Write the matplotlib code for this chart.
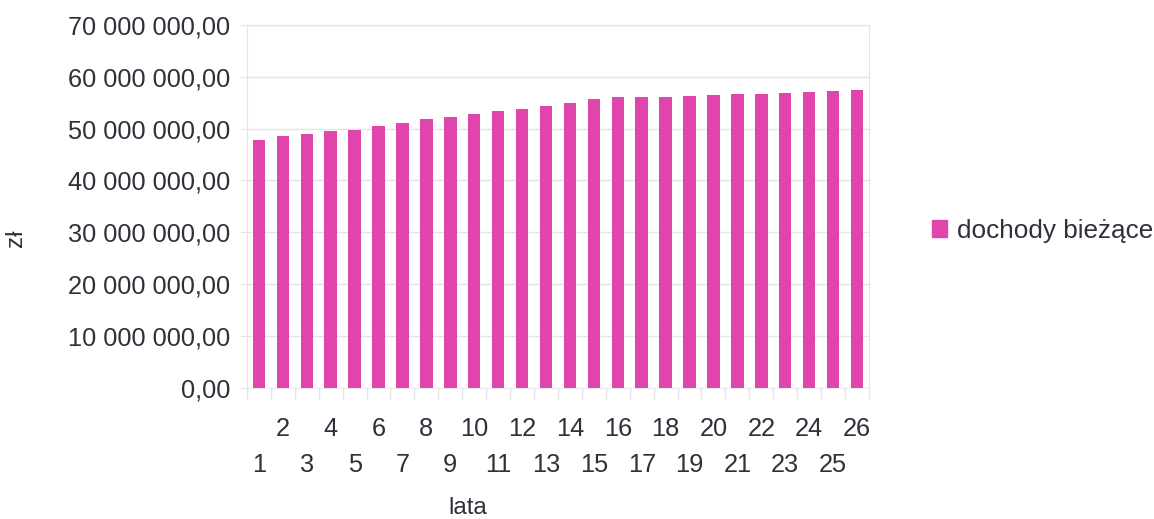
import matplotlib.pyplot as plt
from matplotlib.patches import Patch
from matplotlib.ticker import FuncFormatter
import matplotlib.transforms as mtransforms

plt.rcParams['font.family'] = ['Liberation Sans', 'DejaVu Sans']

# current revenue per year (zł)
years = list(range(1, 27))
dochody = [47.8e6, 48.5e6, 49.0e6, 49.5e6, 49.8e6, 50.5e6, 51.0e6, 51.8e6,
           52.3e6, 52.8e6, 53.3e6, 53.8e6, 54.4e6, 54.9e6, 55.6e6, 56.0e6,
           56.0e6, 56.1e6, 56.3e6, 56.4e6, 56.6e6, 56.7e6, 56.8e6, 57.0e6,
           57.2e6, 57.4e6]
series_name = 'dochody bieżące'
y_ticks = [0, 10e6, 20e6, 30e6, 40e6, 50e6, 60e6, 70e6]

BAR = '#df45ab'
TXT = '#30303a'
GRID = '#e4e4e4'
FS = 18.3


def pl_money(v, pos=None):
    s = f'{v:,.2f}'
    return s.replace(',', ' ').replace('.', ',')


fig = plt.figure(figsize=(11.54, 5.19), dpi=100)
ax = fig.add_axes([0.214, 0.2524, 0.539, 0.700])

ax.bar(years, dochody, width=0.52, color=BAR, zorder=3)

ax.set_xlim(0.5, 26.5)
ax.set_ylim(0, 70e6)
ax.set_yticks(y_ticks)
ax.yaxis.set_major_formatter(FuncFormatter(pl_money))
ax.grid(axis='y', color=GRID, linewidth=1, zorder=0)
ax.tick_params(axis='y', colors=GRID, labelcolor=TXT, labelsize=FS,
               length=5, pad=7)

# odd years on the lower row, even years on the upper row
ax.set_xticks(years[0::2])
ax.set_xticklabels([str(y) for y in years[0::2]])
ax.set_xticks(years[1::2], minor=True)
ax.set_xticklabels([str(y) for y in years[1::2]], minor=True)
ax.tick_params(axis='x', which='major', length=0, pad=47,
               labelsize=FS, labelcolor=TXT)
ax.tick_params(axis='x', which='minor', length=0, pad=21,
               labelsize=FS, labelcolor=TXT)

# small marks at category boundaries
trans = mtransforms.blended_transform_factory(ax.transData, ax.transAxes)
bounds = [y - 0.5 for y in years] + [years[-1] + 0.5]
ax.vlines(bounds, -0.03, 0, transform=trans, colors=GRID,
          linewidth=1, clip_on=False)

for side in ['top', 'right', 'left', 'bottom']:
    ax.spines[side].set_color(GRID)
ax.spines['bottom'].set_color('#eeeeee')

fig.text(0.0135, 0.54, 'zł', rotation=90, fontsize=FS - 1, color=TXT,
         ha='center', va='center')
fig.text(0.405, 0.021, 'lata', fontsize=FS - 1, color=TXT,
         ha='center', va='center')

fig.legend(handles=[Patch(color=BAR, label=series_name)],
           loc='center left', bbox_to_anchor=(0.787, 0.555),
           frameon=False, fontsize=18.8, labelcolor=TXT,
           handlelength=0.6, handleheight=0.6, handletextpad=0.35)

fig.savefig('out.png', dpi=100)
